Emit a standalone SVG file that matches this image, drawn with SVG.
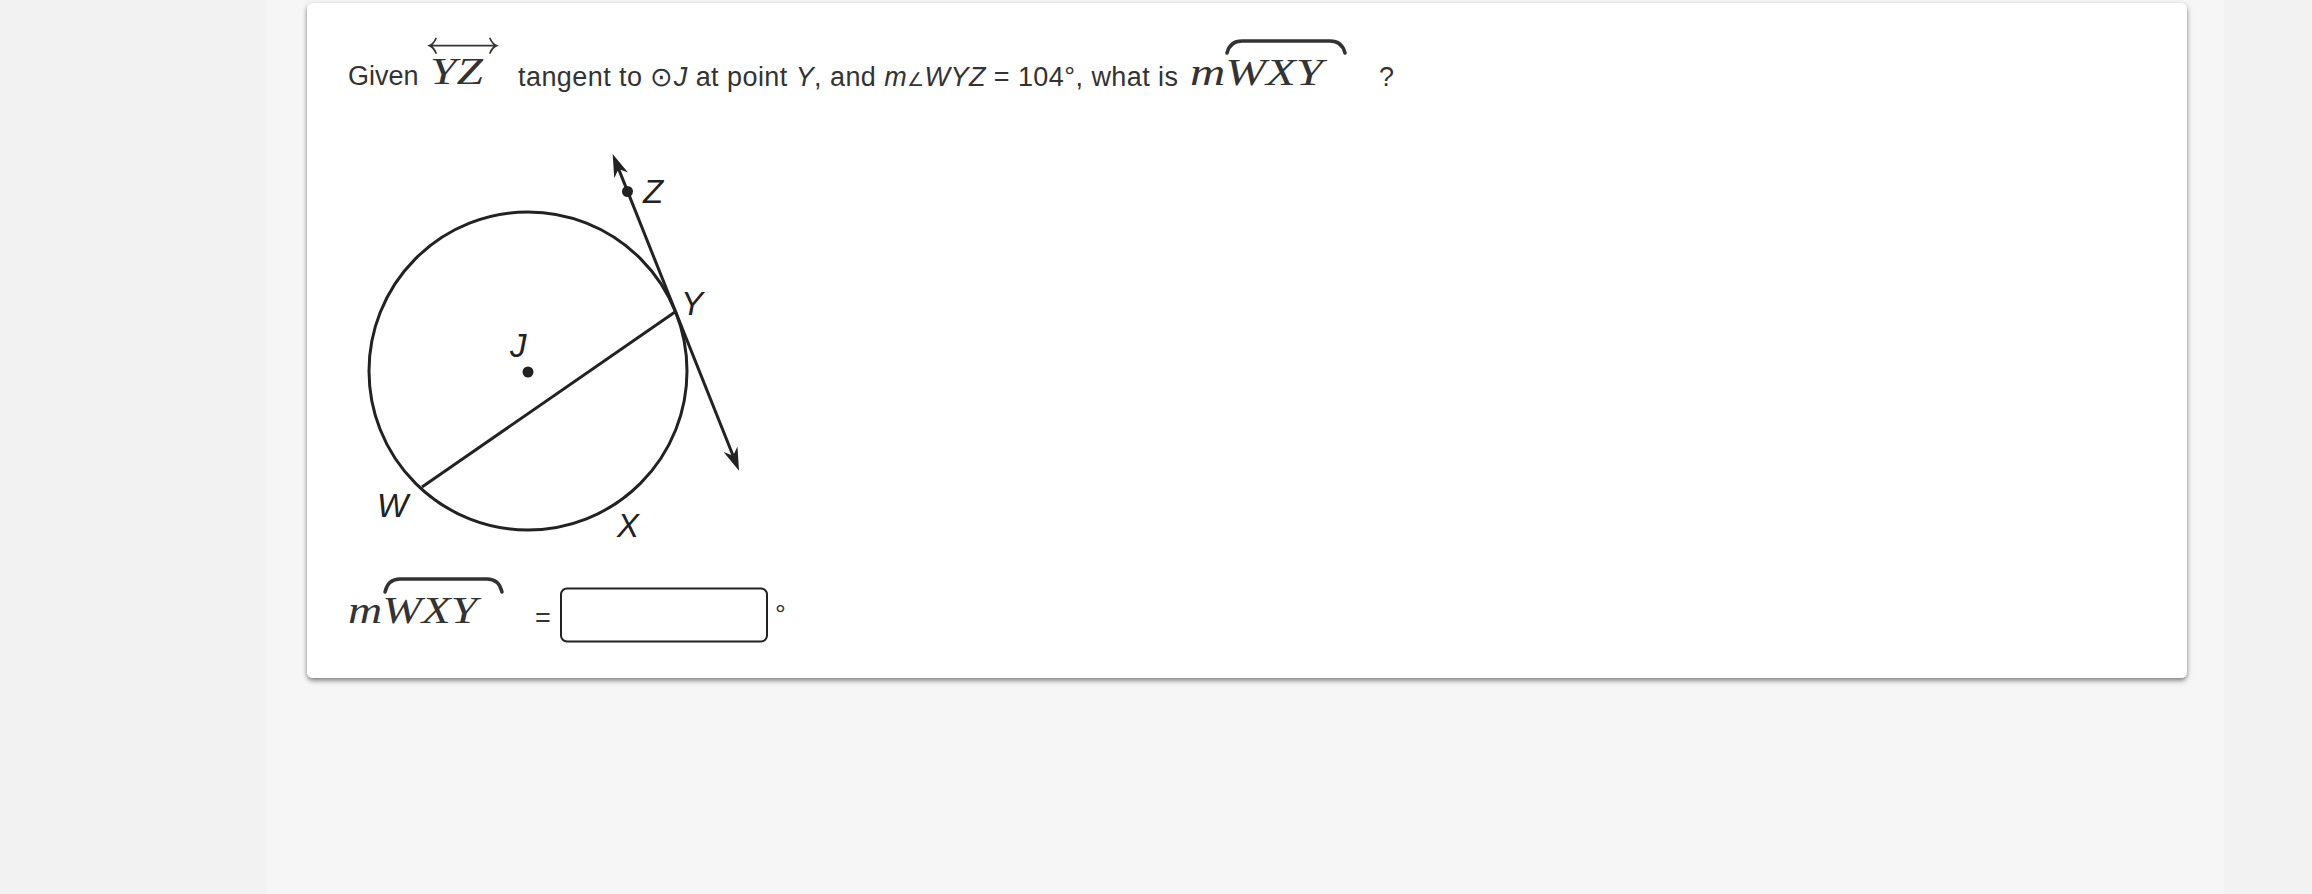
<svg xmlns="http://www.w3.org/2000/svg" width="2312" height="894" viewBox="0 0 2312 894">
<defs>
<filter id="shadow" x="-5%" y="-5%" width="110%" height="115%">
<feDropShadow dx="0" dy="2.5" stdDeviation="2.5" flood-color="#000" flood-opacity="0.5"/>
</filter>
<marker id="arrow" viewBox="0 -8 23 16" markerWidth="23" markerHeight="16" markerUnits="userSpaceOnUse" refX="7" refY="0" orient="auto-start-reverse">
<path d="M0,-7.5 L23,0 L0,7.5 L7,0 Z" fill="#222"/>
</marker>
</defs>
<style>
.txt{font-family:"Liberation Sans",Arial,sans-serif;font-size:27px;fill:#333}
.it{font-style:italic}
.ang{font-size:19px}
.math{font-family:"Liberation Serif","Times New Roman",serif;font-style:italic;font-size:37px;fill:#333}
.lbl{font-family:"Liberation Sans",Arial,sans-serif;font-style:italic;font-size:33px;fill:#222}
.geo{fill:none;stroke:#222;stroke-width:3}
.arc{fill:none;stroke:#333;stroke-width:3.5;stroke-linecap:round}
.ovr{fill:none;stroke:#333;stroke-width:1.8;stroke-linecap:round}
</style>
<rect x="0" y="0" width="2312" height="894" fill="#f2f2f2"/>
<rect x="267" y="0" width="1957" height="894" fill="#f6f6f6"/>
<g id="card">
<rect x="307" y="3" width="1880" height="675" rx="6" fill="#fff" filter="url(#shadow)"/>
</g>
<g id="question">
<text class="txt" x="348" y="85">Given</text>
<text class="math" x="430" y="84" textLength="53" lengthAdjust="spacingAndGlyphs">YZ</text>
<path class="ovr" d="M430,45.7 H496.5 M436,38.5 Q433.5,44 429.5,45.7 Q433.5,47.4 436,53 M490,38.5 Q492.5,44 496.5,45.7 Q492.5,47.4 490,53"/>
<text class="txt" x="518" y="86" textLength="660" lengthAdjust="spacing">tangent to ⊙<tspan class="it">J</tspan> at point <tspan class="it">Y</tspan>, and <tspan class="it">m</tspan><tspan class="ang">∠</tspan><tspan class="it">WYZ</tspan> = 104°, what is</text>
<text class="math" x="1190" y="85" textLength="133" lengthAdjust="spacingAndGlyphs">mWXY</text>
<path class="arc" d="M1227,53 Q1230,41 1242,41 H1330 Q1342,41 1345,53"/>
<text class="txt" x="1379" y="86">?</text>
</g>
<g id="connectors">
<line class="geo" x1="618.6" y1="168.9" x2="733.1" y2="455.8" marker-start="url(#arrow)" marker-end="url(#arrow)"/>
<line class="geo" x1="422" y1="487" x2="675" y2="312"/>
</g>
<g id="circleJ">
<circle class="geo" cx="528" cy="371" r="159"/>
<circle cx="528" cy="372" r="5.5" fill="#222"/>
<text class="lbl" x="510" y="357">J</text>
</g>
<g id="pointZ">
<circle cx="627.5" cy="191.5" r="5.5" fill="#222"/>
<text class="lbl" x="643" y="203">Z</text>
</g>
<g id="pointY">
<text class="lbl" x="681" y="315">Y</text>
</g>
<g id="pointW">
<text class="lbl" x="377" y="517">W</text>
</g>
<g id="pointX">
<text class="lbl" x="617" y="537">X</text>
</g>
<g id="answer">
<text class="math" x="348" y="623" textLength="129" lengthAdjust="spacingAndGlyphs">mWXY</text>
<path class="arc" d="M385,592 Q388,579 400,579 H487 Q499,579 502,592"/>
<text class="txt" x="535" y="627">=</text>
<rect x="561" y="588.5" width="206" height="53" rx="6" fill="#fff" stroke="#222" stroke-width="2"/>
<text class="txt" x="775" y="624">°</text>
</g>
</svg>
